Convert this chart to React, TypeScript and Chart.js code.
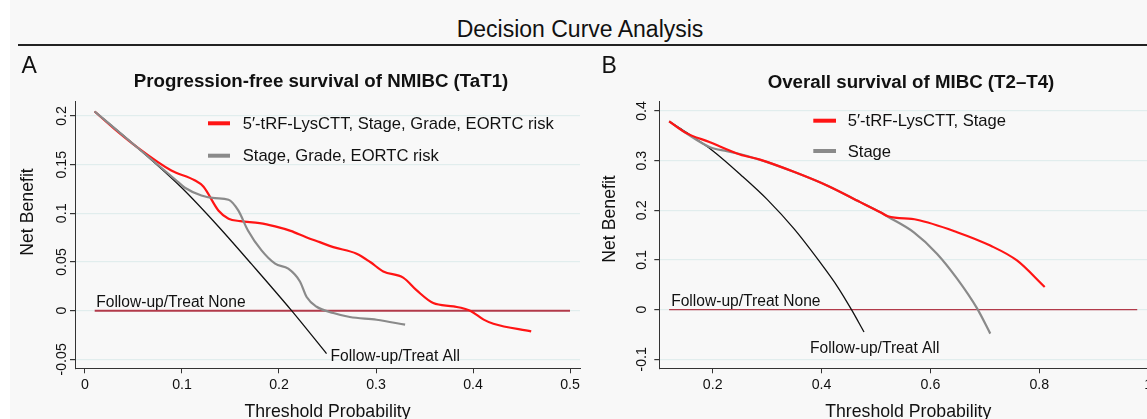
import React, { useEffect, useRef } from "react";
import { Chart, registerables } from "chart.js";

Chart.register(...registerables);

const FONT = "'Liberation Sans', Arial, Helvetica, sans-serif";

// ---------- Panel A data (NMIBC, progression-free survival) ----------
const A_MODEL_X = [0.01, 0.03, 0.055, 0.089, 0.113, 0.122, 0.1375, 0.148, 0.16, 0.18, 0.196, 0.212, 0.228, 0.242, 0.256, 0.28, 0.294, 0.3075, 0.328, 0.342, 0.359, 0.38, 0.397, 0.411, 0.421, 0.46];
const A_MODEL_Y = [0.2046, 0.187, 0.167, 0.144, 0.134, 0.1276, 0.103, 0.0945, 0.092, 0.09, 0.0866, 0.082, 0.0755, 0.0704, 0.0653, 0.0585, 0.05, 0.0403, 0.0339, 0.0208, 0.0078, 0.0044, 0.0, -0.0092, -0.0134, -0.0213];
const A_REF_X = [0.01, 0.05, 0.093, 0.103, 0.12, 0.134, 0.148, 0.158, 0.168, 0.182, 0.196, 0.2096, 0.2216, 0.2285, 0.2388, 0.256, 0.273, 0.3007, 0.33];
const A_REF_Y = [0.2046, 0.171, 0.1348, 0.1263, 0.1184, 0.1156, 0.114, 0.103, 0.0824, 0.0619, 0.0483, 0.0431, 0.03, 0.014, 0.004, -0.0024, -0.0065, -0.0093, -0.0144];
const A_ALL_X = [0.01, 0.05, 0.1, 0.1375, 0.172, 0.213, 0.249];
const A_ALL_Y = [0.2046, 0.171, 0.126, 0.0865, 0.0475, 0.0, -0.0441];
const A_NONE_X = [0.01, 0.5];
const A_NONE_Y = [0, 0];
const A_X_TICKS = [0, 0.1, 0.2, 0.3, 0.4, 0.5];
const A_X_LABELS = ["0", "0.1", "0.2", "0.3", "0.4", "0.5"];
const A_Y_TICKS = [-0.05, 0, 0.05, 0.1, 0.15, 0.2];
const A_Y_LABELS = ["-0.05", "0", "0.05", "0.1", "0.15", "0.2"];
const A_LEGEND = ["5\u2032-tRF-LysCTT, Stage, Grade, EORTC risk", "Stage, Grade, EORTC risk"];

// ---------- Panel B data (MIBC, overall survival) ----------
const B_MODEL_X = [0.12, 0.149, 0.195, 0.25, 0.287, 0.348, 0.41, 0.471, 0.508, 0.522, 0.575, 0.649, 0.71, 0.759, 0.81];
const B_MODEL_Y = [0.379, 0.357, 0.337, 0.3125, 0.302, 0.278, 0.25, 0.2165, 0.196, 0.188, 0.181, 0.156, 0.129, 0.099, 0.0455];
const B_REF_X = [0.12, 0.149, 0.195, 0.226, 0.253, 0.3, 0.35, 0.41, 0.471, 0.508, 0.522, 0.569, 0.612, 0.649, 0.686, 0.71];
const B_REF_Y = [0.379, 0.357, 0.327, 0.319, 0.3125, 0.297, 0.277, 0.25, 0.2165, 0.196, 0.187, 0.156, 0.1127, 0.0624, 0.002, -0.0483];
const B_ALL_X = [0.12, 0.15, 0.2, 0.256, 0.3, 0.35, 0.394, 0.43, 0.455, 0.478];
const B_ALL_Y = [0.379, 0.358, 0.32, 0.267, 0.222, 0.162, 0.1, 0.045, 0.0, -0.045];
const B_NONE_X = [0.12, 0.98];
const B_NONE_Y = [0, 0];
const B_X_TICKS = [0.2, 0.4, 0.6, 0.8, 1];
const B_X_LABELS = ["0.2", "0.4", "0.6", "0.8", "1"];
const B_Y_TICKS = [-0.1, 0, 0.1, 0.2, 0.3, 0.4];
const B_Y_LABELS = ["-0.1", "0", "0.1", "0.2", "0.3", "0.4"];
const B_LEGEND = ["5\u2032-tRF-LysCTT, Stage", "Stage"];

const RED = "#ff1414";
const GRAY = "#8a8a8a";
const BLACK = "#111111";
const NONE_COLOR = "#b23a4a";
const AXIS = "#333333";
const GRID = "#e1eded";
const TEXT = "#111111";

const pts = (xs: number[], ys: number[]) => xs.map((x, i) => ({ x, y: ys[i] }));

const decorPlugin = {
  id: "decor",
  afterDraw(chart: any, _args: any, o: any) {
    const ctx = chart.ctx as CanvasRenderingContext2D;
    const xs = chart.scales.x;
    const ys = chart.scales.y;
    ctx.save();
    ctx.fillStyle = TEXT;
    ctx.textBaseline = "alphabetic";

    // panel letter
    ctx.font = `23px ${FONT}`;
    ctx.textAlign = "left";
    ctx.fillText(o.letter, o.letterX, o.letterY);

    // panel title
    ctx.font = `bold 18.7px ${FONT}`;
    ctx.textAlign = "center";
    ctx.fillText(o.title, o.titleX, o.titleY);

    // x tick labels
    ctx.font = `14.2px ${FONT}`;
    ctx.textAlign = "center";
    o.xTicks.forEach((v: number, i: number) => {
      ctx.fillText(o.xLabels[i], xs.getPixelForValue(v), o.xTickBase);
    });
    // y tick labels (rotated)
    o.yTicks.forEach((v: number, i: number) => {
      ctx.save();
      ctx.translate(o.yTickX, ys.getPixelForValue(v));
      ctx.rotate(-Math.PI / 2);
      ctx.textAlign = "center";
      ctx.fillText(o.yLabels[i], 0, 0);
      ctx.restore();
    });

    // axis titles
    ctx.font = `17.7px ${FONT}`;
    ctx.textAlign = "center";
    ctx.fillText("Threshold Probability", o.xTitleX, o.xTitleBase);
    ctx.save();
    ctx.translate(o.yTitleX, o.yTitleY);
    ctx.rotate(-Math.PI / 2);
    ctx.fillText("Net Benefit", 0, 0);
    ctx.restore();

    // legend
    ctx.font = `16.6px ${FONT}`;
    ctx.textAlign = "left";
    ctx.textBaseline = "middle";
    o.legend.forEach((item: any, i: number) => {
      const y = o.legendY[i];
      ctx.strokeStyle = item.color;
      ctx.lineWidth = 4;
      ctx.beginPath();
      ctx.moveTo(o.legendX1, y);
      ctx.lineTo(o.legendX2, y);
      ctx.stroke();
      ctx.fillText(item.label, o.legendTextX, y + 1);
    });

    // annotations
    ctx.textBaseline = "alphabetic";
    ctx.font = `15.6px ${FONT}`;
    const nx = xs.getPixelForValue(o.noneStart.x);
    const ny = ys.getPixelForValue(o.noneStart.y);
    ctx.fillText("Follow-up/Treat None", nx + o.noneDx, ny + o.noneDy);
    const ax = xs.getPixelForValue(o.allEnd.x);
    const ay = ys.getPixelForValue(o.allEnd.y);
    ctx.fillText("Follow-up/Treat All", ax + o.allDx, ay + o.allDy);
    ctx.restore();
  },
};

function buildConfig(p: any) {
  return {
    type: "line",
    data: {
      datasets: [
        { data: pts(p.topX, p.topY), borderColor: p.topColor, borderWidth: 2.2, order: 1 },
        { data: pts(p.midX, p.midY), borderColor: p.midColor, borderWidth: 2.2, order: 2 },
        { data: pts(p.allX, p.allY), borderColor: BLACK, borderWidth: 1.3, order: 3 },
        { data: pts(p.noneX, p.noneY), borderColor: NONE_COLOR, borderWidth: p.noneWidth, order: 4 },
      ].map((d) => ({ ...d, pointRadius: 0, fill: false, cubicInterpolationMode: "monotone" })),
    },
    options: {
      responsive: false,
      animation: false,
      devicePixelRatio: 1,
      events: [],
      layout: { padding: { left: 0, top: p.padTop, right: p.padRight, bottom: 0 } },
      plugins: {
        legend: { display: false },
        tooltip: { enabled: false },
        title: { display: false },
        decor: p.decor,
      },
      scales: {
        x: {
          type: "linear",
          min: p.xMin,
          max: p.xMax,
          afterBuildTicks: (s: any) => {
            s.ticks = p.xTicks.map((v: number) => ({ value: v }));
          },
          afterFit: (s: any) => {
            s.height = p.xAxisH;
          },
          ticks: { display: false },
          grid: { drawOnChartArea: false, drawTicks: true, tickLength: 5, tickColor: AXIS, color: AXIS },
          border: { display: true, color: AXIS, width: 1 },
        },
        y: {
          type: "linear",
          min: p.yMin,
          max: p.yMax,
          afterBuildTicks: (s: any) => {
            s.ticks = p.yTicks.map((v: number) => ({ value: v }));
          },
          afterFit: (s: any) => {
            s.width = p.yAxisW;
          },
          ticks: { display: false },
          grid: { drawOnChartArea: true, drawTicks: true, tickLength: 5, tickColor: AXIS, color: GRID, lineWidth: 1.2 },
          border: { display: true, color: AXIS, width: 1 },
        },
      },
    },
    plugins: [decorPlugin],
  };
}

const PANEL_A = {
  topX: A_REF_X, topY: A_REF_Y, topColor: GRAY,
  midX: A_MODEL_X, midY: A_MODEL_Y, midColor: RED,
  allX: A_ALL_X, allY: A_ALL_Y,
  noneX: A_NONE_X, noneY: A_NONE_Y, noneWidth: 2,
  xMin: -0.0103, xMax: 0.5103, yMin: -0.0592, yMax: 0.2147,
  xTicks: A_X_TICKS, yTicks: A_Y_TICKS,
  padTop: 101.7, padRight: 20, xAxisH: 71.7, yAxisW: 75,
  decor: {
    letter: "A", letterX: 21.5, letterY: 73.3,
    title: "Progression-free survival of NMIBC (TaT1)", titleX: 321, titleY: 86.7,
    xTicks: A_X_TICKS, xLabels: A_X_LABELS, yTicks: A_Y_TICKS, yLabels: A_Y_LABELS,
    xTickBase: 388.8, yTickX: 65.5,
    xTitleX: 327.5, xTitleBase: 416.8, yTitleX: 33.3, yTitleY: 212,
    legend: [{ color: RED, label: A_LEGEND[0] }, { color: GRAY, label: A_LEGEND[1] }],
    legendY: [123.3, 155.7], legendX1: 208, legendX2: 230, legendTextX: 242.7,
    noneStart: { x: A_NONE_X[0], y: A_NONE_Y[0] }, noneDx: 1.5, noneDy: -4,
    allEnd: { x: A_ALL_X[A_ALL_X.length - 1], y: A_ALL_Y[A_ALL_Y.length - 1] }, allDx: 4, allDy: 7.4,
  },
};

const PANEL_B = {
  topX: B_MODEL_X, topY: B_MODEL_Y, topColor: RED,
  midX: B_REF_X, midY: B_REF_Y, midColor: GRAY,
  allX: B_ALL_X, allY: B_ALL_Y,
  noneX: B_NONE_X, noneY: B_NONE_Y, noneWidth: 1.4,
  xMin: 0.1019, xMax: 1.0231, yMin: -0.1181, yMax: 0.4187,
  xTicks: B_X_TICKS, yTicks: B_Y_TICKS,
  padTop: 101.7, padRight: 19.3, xAxisH: 71.7, yAxisW: 59.3,
  decor: {
    letter: "B", letterX: 1.5, letterY: 73,
    title: "Overall survival of MIBC (T2\u2013T4)", titleX: 311, titleY: 87.5,
    xTicks: B_X_TICKS, xLabels: B_X_LABELS, yTicks: B_Y_TICKS, yLabels: B_Y_LABELS,
    xTickBase: 388.8, yTickX: 45.5,
    xTitleX: 308.3, xTitleBase: 416.7, yTitleX: 15, yTitleY: 219,
    legend: [{ color: RED, label: B_LEGEND[0] }, { color: GRAY, label: B_LEGEND[1] }],
    legendY: [120.7, 151], legendX1: 213.3, legendX2: 236, legendTextX: 247.7,
    noneStart: { x: B_NONE_X[0], y: B_NONE_Y[0] }, noneDx: 2, noneDy: -3.7,
    allEnd: { x: B_ALL_X[B_ALL_X.length - 1], y: B_ALL_Y[B_ALL_Y.length - 1] }, allDx: -54, allDy: 20.6,
  },
};

function Panel({ spec, left, width }: { spec: any; left: number; width: number }) {
  const ref = useRef<HTMLCanvasElement | null>(null);
  useEffect(() => {
    if (!ref.current) return;
    const chart = new Chart(ref.current, buildConfig(spec) as any);
    return () => chart.destroy();
  }, [spec]);
  return (
    <canvas
      ref={ref}
      width={width}
      height={440}
      style={{ position: "absolute", left, top: 0, width, height: 440, display: "block" }}
    />
  );
}

export default function App() {
  return (
    <div
      style={{
        position: "fixed",
        left: 0,
        top: 0,
        width: 1147,
        height: 419,
        overflow: "hidden",
        background: "#ffffff",
        fontFamily: FONT,
      }}
    >
      <div style={{ position: "absolute", left: 10, top: 0, right: 0, bottom: 0, background: "#f8f8f8" }} />
      <div
        style={{
          position: "absolute",
          left: 0,
          top: 17.5,
          width: 1160,
          textAlign: "center",
          fontSize: 23,
          lineHeight: "23px",
          color: TEXT,
          whiteSpace: "nowrap",
        }}
      >
        Decision Curve Analysis
      </div>
      <div style={{ position: "absolute", left: 18, top: 44, right: 0, height: 2, background: "#222" }} />
      <Panel spec={PANEL_A} left={0} width={600} />
      <Panel spec={PANEL_B} left={600} width={580} />
    </div>
  );
}
